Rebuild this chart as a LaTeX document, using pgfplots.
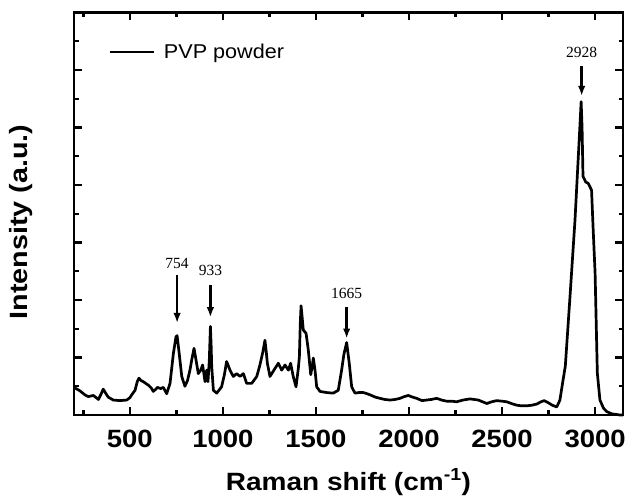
\documentclass[border=0pt]{standalone}
\usepackage{fontspec}
\setmainfont{Liberation Serif}
\setsansfont{Liberation Sans}
\usepackage{graphicx}
\usepackage{pgfplots}
\pgfplotsset{compat=1.18}
\usetikzlibrary{arrows.meta}
\newcommand\hs[2]{\scalebox{#1}[1]{#2}}

\pgfplotstableread{
wn int
200 0.50
205 0.47
232 0.42
259 0.35
277 0.32
304 0.34
320 0.30
331 0.27
345 0.36
357 0.45
370 0.38
384 0.31
411 0.26
447 0.25
483 0.26
500 0.30
510 0.35
528 0.43
540 0.58
549 0.64
560 0.60
572 0.58
599 0.52
615 0.47
626 0.41
640 0.45
648 0.48
666 0.46
680 0.48
698 0.37
716 0.55
734 1.07
748 1.36
754 1.38
766 1.05
779 0.67
796 0.50
810 0.60
823 0.78
835 1.00
845 1.16
856 0.95
868 0.72
881 0.78
891 0.87
904 0.58
913 0.78
920 0.58
927 0.95
933 1.54
937 1.20
940 0.84
949 0.43
967 0.38
993 0.49
1008 0.70
1020 0.93
1030 0.85
1038 0.78
1056 0.67
1074 0.72
1092 0.67
1110 0.72
1128 0.55
1155 0.55
1182 0.67
1199 0.87
1215 1.10
1226 1.30
1233 1.10
1239 0.90
1253 0.67
1280 0.81
1298 0.90
1316 0.78
1334 0.87
1352 0.78
1364 0.90
1378 0.67
1393 0.49
1405 0.80
1411 1.01
1416 1.60
1420 1.90
1426 1.70
1432 1.48
1447 1.42
1459 1.13
1472 0.70
1480 0.85
1486 0.99
1495 0.78
1504 0.49
1522 0.41
1558 0.39
1593 0.38
1620 0.43
1638 0.78
1650 1.05
1665 1.26
1679 0.90
1692 0.49
1710 0.38
1730 0.39
1755 0.39
1775 0.37
1791 0.35
1820 0.31
1844 0.29
1870 0.27
1898 0.26
1925 0.27
1952 0.29
1975 0.32
1996 0.34
2020 0.31
2041 0.29
2070 0.25
2095 0.26
2120 0.27
2149 0.29
2175 0.26
2203 0.24
2230 0.24
2256 0.23
2290 0.26
2328 0.28
2350 0.27
2373 0.26
2395 0.23
2418 0.20
2445 0.23
2471 0.25
2500 0.24
2525 0.23
2550 0.20
2579 0.17
2605 0.16
2633 0.16
2660 0.17
2686 0.19
2710 0.23
2726 0.25
2745 0.22
2770 0.17
2794 0.14
2811 0.26
2825 0.55
2840 0.85
2866 2.10
2892 3.39
2918 5.00
2925 5.45
2930 5.00
2935 4.15
2950 4.05
2963 4.03
2975 3.95
2981 3.91
2990 3.20
3000 2.47
3012 0.73
3026 0.26
3045 0.12
3062 0.06
3090 0.02
3134 0.00
3150 0.00
}\pvp

\begin{document}
\begin{tikzpicture}
\useasboundingbox (-74pt,-82pt) rectangle (554pt,415pt);
\begin{axis}[
  at={(0pt,0pt)}, anchor=south west,
  scale only axis, width=549pt, height=402.5pt,
  xmin=200, xmax=3150, ymin=0, ymax=7,
  axis line style={line width=2.6pt},
  tick align=inside,
  every tick/.style={black, line width=2.4pt},
  major tick length=8pt, minor tick length=4.5pt,
  xtick={500,1000,1500,2000,2500,3000},
  xticklabels={\hs{1.1}{500},\hs{1.1}{1000},\hs{1.1}{1500},\hs{1.1}{2000},\hs{1.1}{2500},\hs{1.1}{3000}},
  minor xtick={250,750,1250,1750,2250,2750},
  ytick={0,1,2,3,4,5,6,7},
  yticklabels={},
  minor ytick={0.5,1.5,2.5,3.5,4.5,5.5,6.5},
  xticklabel style={font=\sffamily\bfseries\fontsize{25}{25}\selectfont, anchor=base, yshift=-32pt},
  legend style={draw=none, fill=none, at={(0.062,0.902)}, anchor=west, inner sep=0pt,
    font=\sffamily\fontsize{20}{20}\selectfont},
  legend image code/.code={\draw[#1, line width=2.7pt] (0pt,0pt) -- (44pt,0pt);},
  clip=false,
]
\addplot[black, line width=2.7pt, line join=round] table[x=wn, y=int] {\pvp};
\addlegendentry{\hspace{7pt}\hs{1.08}{PVP powder}}

\begin{scope}[font=\fontsize{15.5}{15.5}\selectfont]
\draw[line width=2.5pt, -{Latex[length=10pt,width=7.5pt]}] (axis cs:754,2.43) -- (axis cs:754,1.60);
\node at (axis cs:754,2.64) {754};
\draw[line width=2.5pt, -{Latex[length=10pt,width=7.5pt]}] (axis cs:933,2.26) -- (axis cs:933,1.70);
\node at (axis cs:933,2.52) {933};
\draw[line width=2.5pt, -{Latex[length=10pt,width=7.5pt]}] (axis cs:1665,1.88) -- (axis cs:1665,1.33);
\node at (axis cs:1665,2.12) {1665};
\draw[line width=2.5pt, -{Latex[length=10pt,width=7.5pt]}] (axis cs:2928,6.07) -- (axis cs:2928,5.55);
\node at (axis cs:2928,6.30) {2928};
\end{scope}
\end{axis}
\node[anchor=base, font=\sffamily\bfseries\fontsize{25}{25}\selectfont] at (274.5pt,-75pt)
  {\hs{1.12}{Raman shift (cm\textsuperscript{-1})}};
\node[anchor=base, rotate=90, font=\sffamily\bfseries\fontsize{25}{25}\selectfont] at (-47pt,193pt)
  {\hs{1.15}{Intensity (a.u.)}};
\end{tikzpicture}
\end{document}
